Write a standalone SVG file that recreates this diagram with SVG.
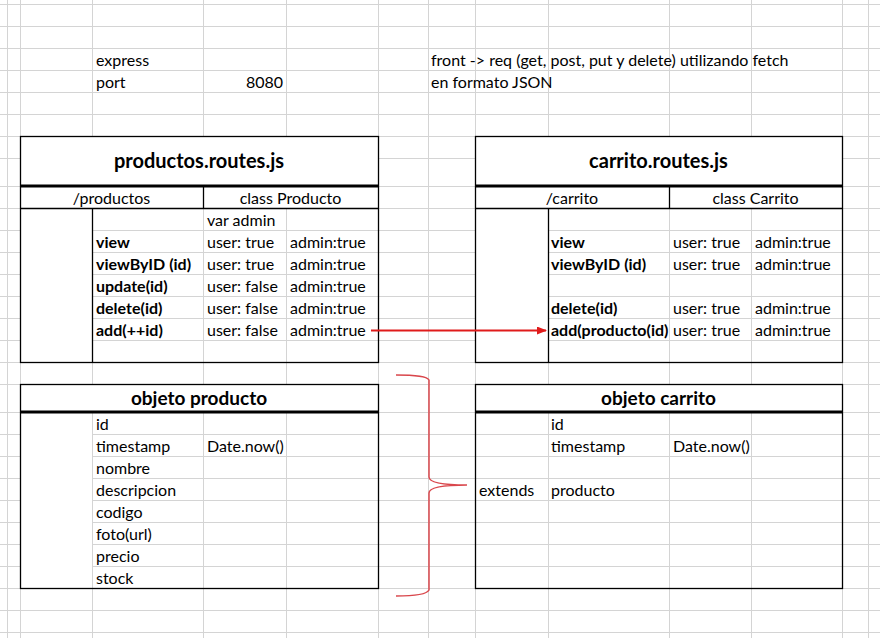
<svg xmlns="http://www.w3.org/2000/svg" width="880" height="638" viewBox="0 0 880 638">
<defs>
<style>
.grid{stroke:#d4d4d4;stroke-width:1;fill:none}
.bx{fill:none;stroke:#000;stroke-width:1.3}
.thick{stroke:#000;stroke-width:3}
.ln{stroke:#000;stroke-width:1.3}
.wh{fill:#fff}
text{font-family:Lato,"Noto Sans",sans-serif;font-size:16px;fill:#000}
.b{font-weight:bold}
.t{font-weight:bold;font-size:20px}
.t2{font-weight:bold;font-size:19px}
.c{text-anchor:middle}
.r{text-anchor:end}
</style>
<marker id="ah" markerWidth="10" markerHeight="8" refX="9" refY="4" orient="auto" markerUnits="userSpaceOnUse">
<path d="M0,0 L10,4 L0,8 Z" fill="#e01b1b"/>
</marker>
</defs>
<rect width="880" height="638" fill="#fff"/>
<g id="grid" class="grid">
<path d="M7.5,0V638M20.5,0V638M92.5,0V638M203.5,0V638M286.5,0V638M378.5,0V638M428.5,0V638M475.5,0V638M548.5,0V638M669.5,0V638M751.5,0V638M842.5,0V638M868.5,0V638"/>
<path d="M0,4.5H880M0,26.5H880M0,48.5H880M0,70.5H880M0,92.5H880M0,114.5H880M0,136.5H880M0,158.5H880M0,186.5H880M0,208.5H880M0,230.5H880M0,252.5H880M0,274.5H880M0,296.5H880M0,318.5H880M0,340.5H880M0,362.5H880M0,384.5H880M0,412.5H880M0,434.5H880M0,456.5H880M0,478.5H880M0,500.5H880M0,522.5H880M0,544.5H880M0,566.5H880M0,588.5H880M0,610.5H880M0,632.5H880"/>
</g>
<g id="notes">
<text x="96" y="66">express</text>
<text x="96" y="88">port</text>
<text x="283" y="88" class="r">8080</text>
<text x="431" y="66">front -&gt; req (get, post, put y delete) utilizando fetch</text>
<text x="431" y="88">en formato JSON</text>
</g>
<g id="productos-routes">
<rect class="wh" x="20" y="136" width="358" height="72"/>
<rect class="wh" x="20" y="208" width="72" height="154"/>
<rect class="bx" x="20.5" y="136.5" width="358" height="226"/>
<line class="thick" x1="20" y1="186" x2="379" y2="186"/>
<line class="ln" x1="20" y1="208.5" x2="379" y2="208.5"/>
<line class="ln" x1="203.5" y1="186" x2="203.5" y2="208"/>
<line class="ln" x1="92.5" y1="208" x2="92.5" y2="362"/>
<text x="199" y="168" class="t c">productos.routes.js</text>
<text x="111.5" y="204" class="c">/productos</text>
<text x="290.5" y="204" class="c">class Producto</text>
<text x="207" y="226">var admin</text>
<text x="96" y="248" class="b">view</text>
<text x="96" y="270" class="b">viewByID (id)</text>
<text x="96" y="292" class="b">update(id)</text>
<text x="96" y="314" class="b">delete(id)</text>
<text x="96" y="336" class="b">add(++id)</text>
<text x="207" y="248">user: true</text>
<text x="207" y="270">user: true</text>
<text x="207" y="292">user: false</text>
<text x="207" y="314">user: false</text>
<text x="207" y="336">user: false</text>
<text x="290" y="248">admin:true</text>
<text x="290" y="270">admin:true</text>
<text x="290" y="292">admin:true</text>
<text x="290" y="314">admin:true</text>
<text x="290" y="336">admin:true</text>
</g>
<g id="carrito-routes">
<rect class="wh" x="475" y="136" width="367" height="72"/>
<rect class="wh" x="475" y="208" width="73" height="154"/>
<rect class="bx" x="475.5" y="136.5" width="367" height="226"/>
<line class="thick" x1="475" y1="186" x2="843" y2="186"/>
<line class="ln" x1="475" y1="208.5" x2="843" y2="208.5"/>
<line class="ln" x1="669.5" y1="186" x2="669.5" y2="208"/>
<line class="ln" x1="548.5" y1="208" x2="548.5" y2="362"/>
<text x="658.5" y="168" class="t c">carrito.routes.js</text>
<text x="572" y="204" class="c">/carrito</text>
<text x="755.5" y="204" class="c">class Carrito</text>
<text x="551" y="248" class="b">view</text>
<text x="551" y="270" class="b">viewByID (id)</text>
<text x="551" y="314" class="b">delete(id)</text>
<text x="551" y="336" class="b">add(producto(id)</text>
<text x="673" y="248">user: true</text>
<text x="673" y="270">user: true</text>
<text x="673" y="314">user: true</text>
<text x="673" y="336">user: true</text>
<text x="755" y="248">admin:true</text>
<text x="755" y="270">admin:true</text>
<text x="755" y="314">admin:true</text>
<text x="755" y="336">admin:true</text>
</g>
<g id="objeto-producto">
<rect class="wh" x="20" y="384" width="358" height="28"/>
<rect class="wh" x="20" y="412" width="72" height="176"/>
<rect class="bx" x="20.5" y="384.5" width="358" height="204"/>
<line class="thick" x1="20" y1="412" x2="379" y2="412"/>
<text x="199" y="405" class="t2 c">objeto producto</text>
<text x="96" y="430">id</text>
<text x="96" y="452">timestamp</text>
<text x="207" y="452">Date.now()</text>
<text x="96" y="474">nombre</text>
<text x="96" y="496">descripcion</text>
<text x="96" y="518">codigo</text>
<text x="96" y="540">foto(url)</text>
<text x="96" y="562">precio</text>
<text x="96" y="584">stock</text>
</g>
<g id="objeto-carrito">
<rect class="wh" x="475" y="384" width="367" height="28"/>
<rect class="bx" x="475.5" y="384.5" width="367" height="204"/>
<line class="thick" x1="475" y1="412" x2="843" y2="412"/>
<text x="658.5" y="405" class="t2 c">objeto carrito</text>
<text x="551" y="430">id</text>
<text x="551" y="452">timestamp</text>
<text x="673" y="452">Date.now()</text>
<text x="479" y="496">extends</text>
<text x="551" y="496">producto</text>
</g>
<g id="connectors">
<line x1="371" y1="330.5" x2="546" y2="330.5" stroke="#e01b1b" stroke-width="2" marker-end="url(#ah)"/>
<path d="M396,375 C415,375 427,376 429,380 L429,477 C429,482 440,485 467,485 C440,485 429,488 429,493 L429,590 C427,594 415,596 396,596" fill="none" stroke="#d9474c" stroke-width="1.5"/>
</g>
</svg>
